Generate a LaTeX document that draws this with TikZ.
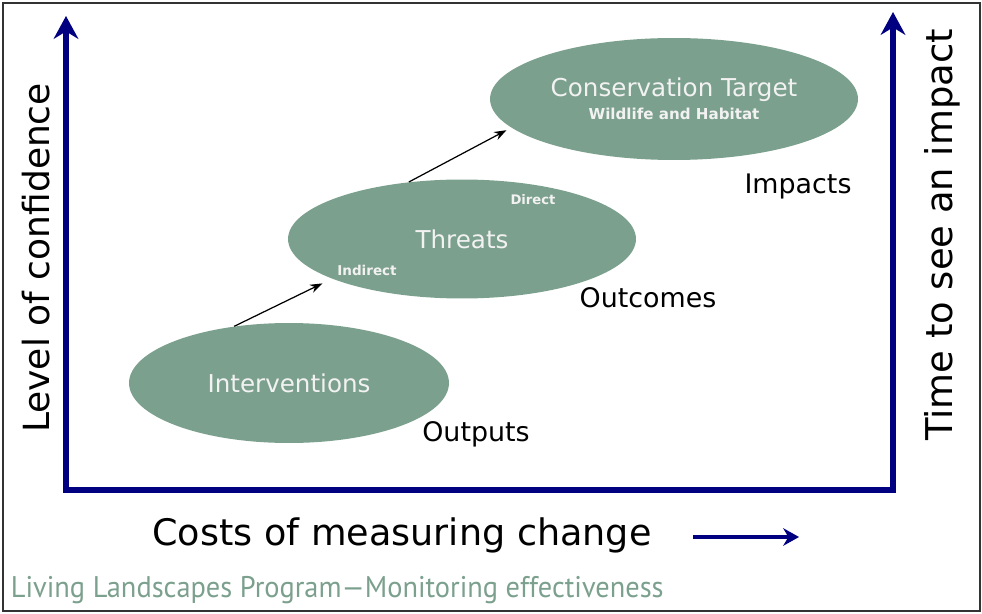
\documentclass[tikz,border=0pt]{standalone}
\usepackage{fontspec}
\setmainfont{DejaVu Sans}
\newfontfamily\creditfont{PT Sans}
\usetikzlibrary{shapes.geometric,arrows.meta}
\definecolor{sage}{RGB}{124,160,142}
\definecolor{axisblue}{RGB}{0,0,128}
\tikzset{
  goal/.style={ellipse, fill=sage, text=white!95!black, inner sep=0pt, align=center},
  axisline/.style={axisblue, line width=3.4pt},
  link/.style={->, >={Stealth[length=7pt,width=5pt]}, line width=0.7pt},
  stage/.style={font=\fontsize{15.3}{18}\selectfont},
}
\begin{document}
\begin{tikzpicture}[x=0.02cm,y=-0.02cm]
\useasboundingbox (0,0) rectangle (982,614);
\draw[line width=0.8pt, black!80] (3,3) rectangle (980,611);
% axes
\draw[axisline, line join=miter, {Stealth[length=13pt,width=14pt]}-{Stealth[length=13pt,width=14pt]}]
  (66,16) -- (66,490) -- (893,490) -- (893,12);
\node[rotate=90, font=\fontsize{20.5}{24}\selectfont] (conf) at (36,258) {Level of confidence};
\node[rotate=90, font=\fontsize{21}{24}\selectfont] (time) at (942,235) {Time to see an impact};
\node[font=\fontsize{20.8}{24}\selectfont] (cost) at (402,535) {Costs of measuring change};
\coordinate (coststart) at (693,537);
\coordinate (costend) at (799,537);
\draw[axisline, line width=2.8pt, -{Stealth[length=9pt,width=10pt]}] (coststart) -- (costend);

% ellipses
\node[goal, minimum width=6.4cm, minimum height=2.4cm, font=\fontsize{14}{16}\selectfont] (interv) at (289,383) {Interventions};
\node[goal, minimum width=6.96cm, minimum height=2.38cm, font=\fontsize{14}{16}\selectfont] (threats) at (462,239) {Threats};
\node[goal, minimum width=7.36cm, minimum height=2.44cm] (target) at (674,99)
  {{\fontsize{14}{16}\selectfont Conservation Target}\\[1pt]{\fontsize{8.6}{10}\bfseries\selectfont Wildlife and Habitat}};
\node[text=white!95!black, font=\fontsize{7.5}{9}\bfseries\selectfont] (direct) at (533,200) {Direct};
\node[text=white!95!black, font=\fontsize{7.7}{9}\bfseries\selectfont] (indirect) at (367,270) {Indirect};

\draw[link, shorten >=6pt] (interv.134) -- (threats.197);
\draw[link, shorten >=3pt] (threats.133) -- (target.190);

\node[stage] (outputs) at (476,434) {Outputs};
\node[stage] (outcomes) at (648,298) {Outcomes};
\node[stage] (impacts) at (798,187) {Impacts};

\node[anchor=west, text=sage, xscale=0.95, font=\creditfont\fontsize{17}{20}\selectfont] (credit) at (5,590)
  {Living Landscapes Program—Monitoring effectiveness};
\end{tikzpicture}
\end{document}
